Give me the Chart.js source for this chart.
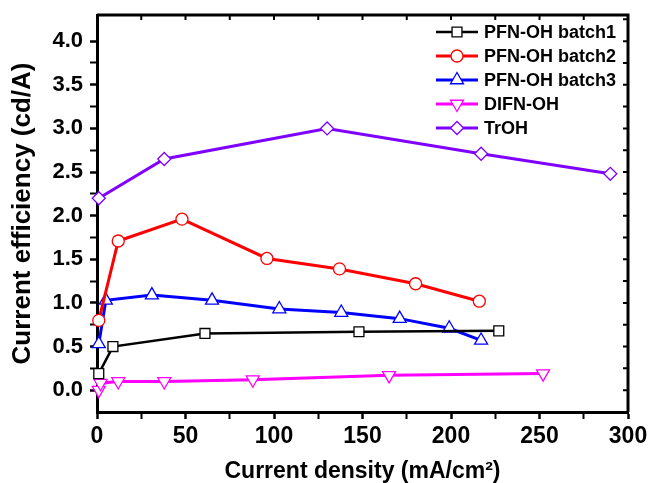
<!DOCTYPE html>
<html>
<head>
<meta charset="utf-8">
<script src="https://cdn.jsdelivr.net/npm/chart.js@4.4.1/dist/chart.umd.min.js"></script>
<style>
  html, body { margin: 0; padding: 0; background: #fff; }
  #wrap { width: 650px; height: 483px; }
</style>
</head>
<body>
<div id="wrap"><canvas id="chart"></canvas></div>
<script>
// values
const labels = ["PFN-OH batch1", "PFN-OH batch2", "PFN-OH batch3", "DIFN-OH", "TrOH"];

const batch1X = [1, 9, 61, 148, 227];
const batch1Y = [0.19, 0.5, 0.65, 0.67, 0.68];

const batch2X = [1, 12, 48, 96, 137, 180, 216];
const batch2Y = [0.8, 1.71, 1.96, 1.51, 1.39, 1.22, 1.02];

const batch3X = [1, 5, 31, 65, 103, 138, 171, 199, 217];
const batch3Y = [0.53, 1.03, 1.09, 1.03, 0.93, 0.89, 0.82, 0.71, 0.57];

const difnX = [1, 2, 12, 38, 88, 165, 252];
const difnY = [0.0, 0.08, 0.1, 0.1, 0.12, 0.17, 0.19];

const trohX = [1, 38, 130, 217, 290];
const trohY = [2.2, 2.65, 3.0, 2.71, 2.48];

const xTicks = [0, 50, 100, 150, 200, 250, 300];
const yTicks = [0, 0.5, 1, 1.5, 2, 2.5, 3, 3.5, 4];

const FONT = "'Liberation Sans', Arial, sans-serif";

function pts(xs, ys) {
  return xs.map((x, i) => ({ x: x, y: ys[i] }));
}

function series(label, xs, ys, color, style, radius, width, rotation) {
  return {
    label: label,
    data: pts(xs, ys),
    borderColor: color,
    borderWidth: width,
    backgroundColor: "#fff",
    pointStyle: style,
    pointRadius: radius,
    pointRotation: rotation || 0,
    pointBorderColor: color,
    pointBackgroundColor: "#fff",
    pointBorderWidth: 1.3,
    tension: 0,
    clip: false,
  };
}

// box round the plot, with small inward ticks on top and right
const frame = {
  id: "frame",
  beforeDatasetsDraw(chart) {
    const { ctx, chartArea: a, scales } = chart;
    ctx.save();
    ctx.strokeStyle = "#000";
    ctx.lineWidth = 3;
    ctx.beginPath();
    ctx.moveTo(a.left, a.top);
    ctx.lineTo(a.right, a.top);
    ctx.lineTo(a.right, a.bottom);
    ctx.stroke();
    ctx.lineWidth = 2;
    ctx.beginPath();
    for (let v = 25; v < 300; v += 25) {
      const px = scales.x.getPixelForValue(v);
      ctx.moveTo(px, a.top);
      ctx.lineTo(px, a.top + 5);
    }
    for (let v = 0; v <= 4.25; v += 0.25) {
      const py = scales.y.getPixelForValue(v);
      ctx.moveTo(a.right, py);
      ctx.lineTo(a.right - 5, py);
    }
    ctx.stroke();
    ctx.restore();
  },
};

// legend with a line and marker sample for each series
const lineLegend = {
  id: "lineLegend",
  afterDraw(chart) {
    const { ctx } = chart;
    const x0 = 436, x1 = 478, tx = 484;
    ctx.save();
    chart.data.datasets.forEach((ds, i) => {
      const y = 32 + i * 24;
      ctx.strokeStyle = ds.borderColor;
      ctx.lineWidth = ds.borderWidth;
      ctx.beginPath();
      ctx.moveTo(x0, y);
      ctx.lineTo(x1, y);
      ctx.stroke();
      ctx.fillStyle = "#fff";
      ctx.strokeStyle = ds.borderColor;
      ctx.lineWidth = ds.pointBorderWidth;
      Chart.helpers.drawPoint(ctx, {
        pointStyle: ds.pointStyle,
        radius: ds.pointRadius,
        rotation: ds.pointRotation,
        borderWidth: ds.pointBorderWidth,
      }, (x0 + x1) / 2, y);
      ctx.fillStyle = "#000";
      ctx.font = "bold 18px " + FONT;
      ctx.textAlign = "left";
      ctx.textBaseline = "middle";
      ctx.fillText(ds.label, tx, y + 1);
    });
    ctx.restore();
  },
};

const onGrid = (v, step) => Math.abs(v / step - Math.round(v / step)) < 1e-6;

new Chart(document.getElementById("chart"), {
  type: "line",
  data: {
    datasets: [
      series(labels[0], batch1X, batch1Y, "#000000", "rect", 7, 2.5),
      series(labels[1], batch2X, batch2Y, "#ff0000", "circle", 6, 3),
      series(labels[2], batch3X, batch3Y, "#0000ff", "triangle", 7.5, 3),
      series(labels[3], difnX, difnY, "#ff00ff", "triangle", 7.5, 3, 180),
      series(labels[4], trohX, trohY, "#7f00ff", "rectRot", 6.5, 3),
    ],
  },
  plugins: [frame, lineLegend],
  options: {
    responsive: true,
    maintainAspectRatio: false,
    animation: false,
    layout: { padding: { top: 15, right: 22, left: 0, bottom: 0 } },
    plugins: { legend: { display: false }, tooltip: { enabled: false } },
    scales: {
      x: {
        type: "linear",
        min: 0,
        max: 300,
        afterFit: (s) => {
          s.height = 71;
          s.paddingLeft = 0;
          s.paddingRight = 0;
        },
        ticks: {
          stepSize: 25,
          autoSkip: false,
          maxRotation: 0,
          padding: 4,
          color: "#000",
          font: { family: FONT, size: 23, weight: "bold" },
          callback: (v) => (xTicks.includes(v) ? String(v) : ""),
        },
        grid: {
          drawOnChartArea: false,
          drawTicks: true,
          tickLength: 7,
          tickColor: "#000",
          tickWidth: (c) => (c.tick && onGrid(c.tick.value, 50) ? 2.5 : 2),
        },
        border: { display: true, color: "#000", width: 3 },
        title: {
          display: true,
          text: "Current density (mA/cm²)",
          color: "#000",
          font: { family: FONT, size: 23, weight: "bold", lineHeight: 1 },
          padding: { top: 0, bottom: 0 },
        },
      },
      y: {
        type: "linear",
        min: -0.25,
        max: 4.3,
        afterFit: (s) => {
          s.width = 97;
          s.paddingTop = 0;
          s.paddingBottom = 0;
        },
        ticks: {
          stepSize: 0.25,
          autoSkip: false,
          padding: 7,
          color: "#000",
          font: { family: FONT, size: 22, weight: "bold" },
          callback: (v) => (yTicks.some((t) => Math.abs(t - v) < 1e-6) ? v.toFixed(1) : ""),
        },
        grid: {
          drawOnChartArea: false,
          drawTicks: true,
          tickLength: 7,
          tickColor: (c) => {
            const v = c.tick ? c.tick.value : 0;
            return v >= 0 && v <= 4.25 && onGrid(v, 0.25) ? "#000" : "rgba(0,0,0,0)";
          },
          tickWidth: (c) => (c.tick && onGrid(c.tick.value, 0.5) ? 2.5 : 2),
        },
        border: { display: true, color: "#000", width: 3 },
        title: {
          display: true,
          text: "Current efficiency (cd/A)",
          color: "#000",
          font: { family: FONT, size: 26, weight: "bold", lineHeight: 1 },
          padding: { top: 10, bottom: 0 },
        },
      },
    },
  },
});
</script>
</body>
</html>
